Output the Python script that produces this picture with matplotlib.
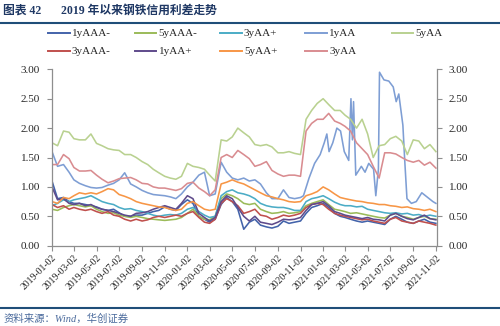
import matplotlib
matplotlib.use("Agg")
import matplotlib.pyplot as plt
import matplotlib.dates as mdates
from matplotlib.lines import Line2D
from matplotlib.ticker import FormatStrFormatter
import pandas as pd
import numpy as np

plt.rcParams['font.family'] = ['Liberation Serif', 'Noto Sans CJK SC', 'DejaVu Sans']

# ---- x categories: semi-monthly observation dates ----
dates = []
for yr in (2019, 2020, 2021):
    for mo in range(1, 13):
        for dy in (2, 17):
            t = pd.Timestamp(yr, mo, dy)
            if t <= pd.Timestamp(2021, 11, 2):
                dates.append(t)

labels = ["1yAAA-", "5yAAA-", "3yAA+", "1yAA", "5yAA",
          "3yAAA-", "1yAA+", "5yAA+", "3yAA"]

y1_AAAm = [1.10, 0.80, 0.82, 0.75, 0.72, 0.72, 0.70, 0.68, 0.66, 0.62, 0.60, 0.62, 0.56, 0.50,
           0.50, 0.52, 0.52, 0.55, 0.58, 0.60, 0.66, 0.62, 0.60, 0.70, 0.78, 0.72, 0.50, 0.45,
           0.40, 0.45, 0.70, 0.82, 0.75, 0.62, 0.28, 0.40, 0.45, 0.35, 0.32, 0.30, 0.33, 0.42,
           0.38, 0.40, 0.42, 0.55, 0.65, 0.68, 0.72, 0.65, 0.55, 0.50, 0.48, 0.45, 0.42, 0.40,
           0.42, 0.40, 0.38, 0.36, 0.45, 0.50, 0.45, 0.40, 0.38, 0.42, 0.45, 0.40, 0.38]

y5_AAAm = [0.62, 0.60, 0.65, 0.68, 0.70, 0.68, 0.66, 0.68, 0.62, 0.58, 0.55, 0.56, 0.52, 0.50,
           0.48, 0.50, 0.48, 0.46, 0.45, 0.44, 0.43, 0.44, 0.45, 0.48, 0.55, 0.62, 0.50, 0.45,
           0.44, 0.50, 0.80, 0.88, 0.85, 0.80, 0.72, 0.70, 0.72, 0.62, 0.58, 0.55, 0.56, 0.58,
           0.55, 0.56, 0.58, 0.68, 0.72, 0.75, 0.78, 0.70, 0.62, 0.60, 0.58, 0.55, 0.56, 0.54,
           0.52, 0.50, 0.48, 0.47, 0.52, 0.55, 0.50, 0.48, 0.45, 0.48, 0.50, 0.46, 0.45]

y3_AAp = [0.68, 0.72, 0.78, 0.75, 0.78, 0.80, 0.82, 0.85, 0.80, 0.75, 0.72, 0.70, 0.65, 0.62,
          0.63, 0.60, 0.58, 0.55, 0.52, 0.50, 0.52, 0.53, 0.52, 0.55, 0.62, 0.65, 0.58, 0.52,
          0.48, 0.50, 0.85, 0.92, 0.95, 0.90, 0.88, 0.85, 0.80, 0.72, 0.68, 0.66, 0.65, 0.65,
          0.63, 0.60, 0.60, 0.75, 0.80, 0.82, 0.85, 0.80, 0.74, 0.70, 0.68, 0.68, 0.66, 0.67,
          0.62, 0.60, 0.58, 0.56, 0.55, 0.56, 0.54, 0.55, 0.52, 0.53, 0.50, 0.52, 0.50]

# 1yAA has its own, denser dates around the 2021 jumps
dates_1yAA = dates[:45] + [pd.Timestamp(s) for s in [
    "2020-11-10", "2020-11-25", "2020-12-10", "2020-12-25", "2021-01-05", "2021-01-12",
    "2021-01-18", "2021-01-28", "2021-02-08", "2021-02-18", "2021-02-28", "2021-03-12",
    "2021-03-18", "2021-03-22", "2021-03-25", "2021-03-31", "2021-04-15", "2021-04-25",
    "2021-05-05", "2021-05-18", "2021-05-24", "2021-05-31", "2021-06-03", "2021-06-15",
    "2021-06-28", "2021-07-10", "2021-07-18", "2021-07-25", "2021-08-05", "2021-08-10",
    "2021-08-16", "2021-08-28", "2021-09-10", "2021-09-25", "2021-10-05", "2021-10-15",
    "2021-10-25", "2021-11-02"]]
y1_AA = [1.60, 1.35, 1.38, 1.25, 1.12, 1.06, 1.02, 0.99, 0.98, 0.99, 1.03, 1.06, 1.12, 1.24,
         1.05, 1.00, 0.94, 0.90, 0.87, 0.86, 0.85, 0.83, 0.80, 0.88, 1.00, 1.08, 1.20, 1.25,
         0.85, 0.88, 1.42, 1.25, 1.15, 1.12, 1.15, 1.10, 1.12, 1.05, 0.90, 0.80, 0.80, 0.95,
         0.82, 0.80, 0.82,
         0.85, 1.15, 1.40, 1.55, 1.75, 1.90, 1.60, 1.75, 2.00, 1.95, 1.60, 1.45,
         2.50, 1.80, 2.45, 1.20, 1.35, 1.25, 1.40, 1.30, 0.85, 1.30, 2.95, 2.82,
         2.80, 2.70, 2.45, 2.58, 2.05, 1.45, 0.80, 0.72, 0.75, 0.90, 0.85, 0.80,
         0.75, 0.72]

y5_AA = [1.75, 1.70, 1.95, 1.93, 1.82, 1.80, 1.80, 1.90, 1.74, 1.70, 1.65, 1.63, 1.62, 1.55,
         1.55, 1.50, 1.43, 1.38, 1.30, 1.24, 1.18, 1.15, 1.13, 1.18, 1.40, 1.35, 1.33, 1.30,
         1.20, 1.10, 1.80, 1.78, 1.85, 2.00, 1.92, 1.85, 1.72, 1.70, 1.72, 1.68, 1.58, 1.58,
         1.60, 1.57, 1.55, 2.15, 2.30, 2.42, 2.50, 2.40, 2.30, 2.30, 2.22, 2.15, 2.00, 2.15,
         1.90, 1.50, 1.70, 1.72, 1.82, 1.86, 1.78, 1.55, 1.80, 1.78, 1.65, 1.72, 1.60]

y3_AAAm = [0.70, 0.65, 0.68, 0.62, 0.65, 0.62, 0.60, 0.62, 0.58, 0.55, 0.58, 0.52, 0.50, 0.45,
           0.42, 0.45, 0.42, 0.44, 0.48, 0.50, 0.48, 0.50, 0.52, 0.50, 0.55, 0.58, 0.48, 0.40,
           0.38, 0.45, 0.72, 0.80, 0.75, 0.68, 0.55, 0.58, 0.62, 0.52, 0.50, 0.45, 0.48, 0.52,
           0.50, 0.52, 0.55, 0.65, 0.70, 0.72, 0.70, 0.62, 0.55, 0.52, 0.50, 0.48, 0.46, 0.44,
           0.45, 0.42, 0.40, 0.38, 0.45, 0.48, 0.42, 0.40, 0.38, 0.42, 0.40, 0.38, 0.35]

y1_AAp = [1.00, 0.78, 0.80, 0.72, 0.70, 0.72, 0.68, 0.70, 0.65, 0.62, 0.60, 0.58, 0.55, 0.52,
          0.50, 0.55, 0.56, 0.58, 0.62, 0.65, 0.68, 0.65, 0.62, 0.72, 0.85, 0.80, 0.55, 0.48,
          0.42, 0.48, 0.75, 0.85, 0.80, 0.65, 0.50, 0.42, 0.50, 0.40, 0.38, 0.36, 0.40, 0.45,
          0.44, 0.45, 0.48, 0.60, 0.70, 0.72, 0.75, 0.68, 0.58, 0.55, 0.52, 0.50, 0.48, 0.46,
          0.48, 0.45, 0.44, 0.42, 0.52, 0.55, 0.50, 0.46, 0.44, 0.48, 0.52, 0.46, 0.44]

y5_AAp = [0.75, 0.72, 0.82, 0.80, 0.85, 0.90, 0.88, 0.90, 0.88, 0.92, 0.97, 0.95, 0.87, 0.84,
          0.80, 0.75, 0.72, 0.70, 0.68, 0.66, 0.65, 0.62, 0.60, 0.62, 0.72, 0.75, 0.68, 0.62,
          0.60, 0.62, 1.05, 1.08, 1.12, 1.08, 1.05, 1.00, 0.95, 0.90, 0.85, 0.83, 0.80, 0.78,
          0.75, 0.74, 0.75, 0.85, 0.88, 0.92, 1.00, 0.95, 0.88, 0.82, 0.80, 0.78, 0.76, 0.75,
          0.73, 0.72, 0.70, 0.70, 0.68, 0.67, 0.65, 0.66, 0.63, 0.62, 0.60, 0.62, 0.58]

y3_AA = [1.38, 1.38, 1.55, 1.48, 1.33, 1.27, 1.27, 1.28, 1.20, 1.13, 1.07, 1.10, 1.14, 1.15,
         1.16, 1.12, 1.06, 1.05, 1.00, 0.98, 0.98, 0.96, 0.94, 0.97, 1.06, 1.08, 0.98, 0.92,
         0.85, 0.95, 1.50, 1.55, 1.50, 1.62, 1.55, 1.48, 1.35, 1.38, 1.43, 1.28, 1.22, 1.18,
         1.20, 1.20, 1.18, 1.95, 2.08, 2.15, 2.15, 2.25, 2.12, 2.08, 2.03, 1.95, 1.75, 1.65,
         1.55, 1.35, 1.15, 1.58, 1.58, 1.56, 1.50, 1.45, 1.42, 1.45, 1.37, 1.42, 1.32]

series_x = [dates, dates, dates, dates_1yAA, dates, dates, dates, dates, dates]
series_y = [y1_AAAm, y5_AAAm, y3_AAp, y1_AA, y5_AA, y3_AAAm, y1_AAp, y5_AAp, y3_AA]
colors = ["#4363AA", "#9BBB59", "#4BACC6", "#7E9ED4", "#B9D190",
          "#C0504D", "#5F4B8B", "#F79646", "#D98C90"]

W, H = 500, 326
fig = plt.figure(figsize=(W / 100, H / 100), dpi=100)
fig.patch.set_facecolor("white")

ax = fig.add_axes([52 / W, 1 - 245.7 / H, (437 - 52) / W, (245.7 - 69.3) / H])
for xs, ys, c in zip(series_x, series_y, colors):
    ax.plot(xs, ys, color=c, lw=1.15, solid_joinstyle="round")

ax.set_ylim(0, 3)
ax.set_yticks(np.arange(0, 3.01, 0.5))
ax.yaxis.set_major_formatter(FormatStrFormatter("%.2f"))
ax.set_xlim(pd.Timestamp("2019-01-02"), pd.Timestamp("2021-11-05"))
ax.xaxis.set_major_locator(mdates.MonthLocator(bymonth=[1, 3, 5, 7, 9, 11], bymonthday=2))
ax.xaxis.set_major_formatter(mdates.DateFormatter("%Y-%m-%d"))

spine_c = "#8E8E8E"
ax.spines["top"].set_visible(False)
for s in ("left", "right", "bottom"):
    ax.spines[s].set_color(spine_c)
    ax.spines[s].set_linewidth(0.9)
ax.tick_params(axis="both", direction="out", length=3.5, width=0.8, color=spine_c,
               labelcolor="#262626")
ax.tick_params(axis="y", labelsize=8, right=True, labelright=True, pad=5)
ax.tick_params(axis="x", labelsize=7, pad=2)
for lab in ax.get_xticklabels():
    lab.set_rotation(45)
    lab.set_ha("right")
    lab.set_rotation_mode("anchor")

# legend (two rows, five columns, read row-wise)
col_x = [48, 134.5, 220, 305, 391.5]
row_y = [33.3, 51]
for k, (lab, c) in enumerate(zip(labels, colors)):
    r, cc = divmod(k, 5)
    x0 = col_x[cc]
    yy = 1 - row_y[r] / H
    fig.add_artist(Line2D([x0 / W, (x0 + 21.5) / W], [yy, yy], transform=fig.transFigure,
                          color=c, lw=1.4))
    fig.text((x0 + 24) / W, yy, lab, fontsize=8, va="center", ha="left",
             color="#262626")

# title and rules
title_c = "#1F3864"
fig.text(3 / W, 1 - 10.5 / H, "图表 42", fontsize=8.5, fontweight="bold",
         color=title_c, va="center", ha="left")
fig.text(61 / W, 1 - 10.5 / H, "2019 年以来钢铁信用利差走势", fontsize=8.5,
         fontweight="bold", color=title_c, va="center", ha="left")
fig.add_artist(Line2D([0, 1], [1 - 22.7 / H] * 2, transform=fig.transFigure,
                      color="#1F4E79", lw=1.5))
fig.add_artist(Line2D([0, 1], [1 - 308 / H] * 2, transform=fig.transFigure,
                      color="#1F4E79", lw=1.5))
fig.text(4 / W, 1 - 319 / H, "资料来源：Wind，华创证券", fontsize=7.5,
         style="italic", color="#4A6A9C", va="center", ha="left")

fig.savefig("out.png", dpi=100, facecolor="white")
